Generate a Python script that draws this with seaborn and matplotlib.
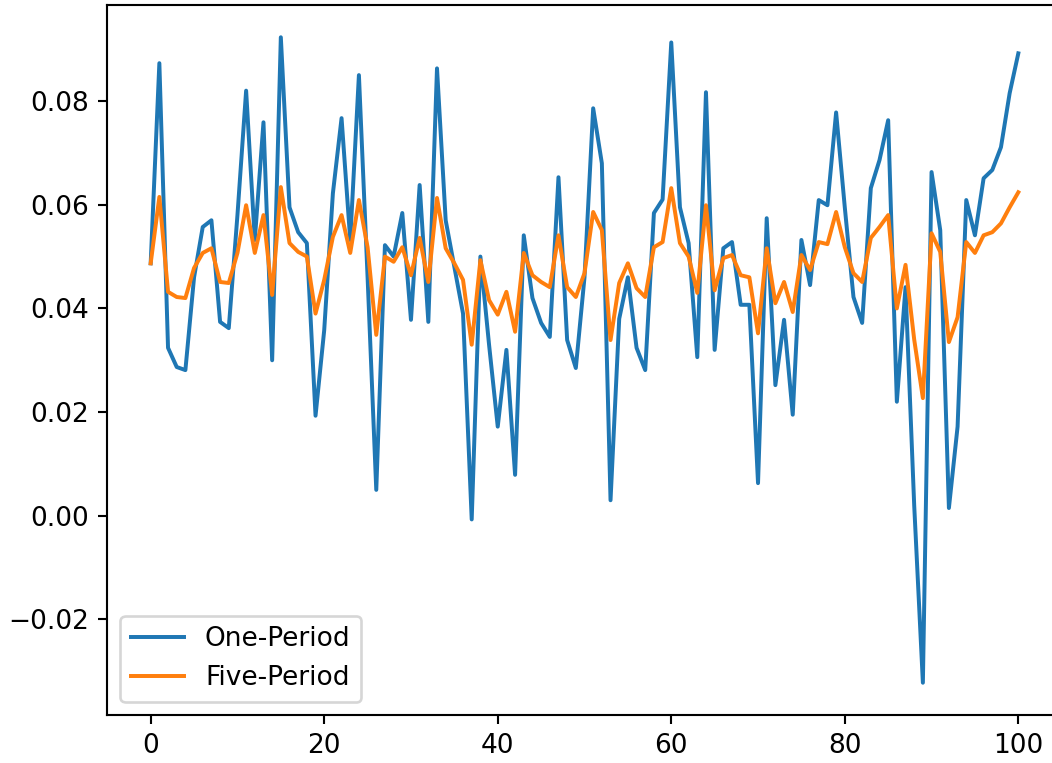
import matplotlib
matplotlib.use("Agg")

import matplotlib.pyplot as plt
import seaborn as sns
import pandas as pd

# ---------------------------------------------------------------------------
# Dados
# ---------------------------------------------------------------------------
periods = list(range(101))

one_period = [
    0.0487, 0.0873, 0.0324, 0.0287, 0.0281, 0.0460, 0.0557, 0.0570, 0.0374, 0.0362,
    0.0580, 0.0820, 0.0532, 0.0759, 0.0300, 0.0923, 0.0595, 0.0547, 0.0526, 0.0193,
    0.0358, 0.0622, 0.0767, 0.0532, 0.0850, 0.0460, 0.0050, 0.0522, 0.0500, 0.0584,
    0.0378, 0.0638, 0.0374, 0.0863, 0.0570, 0.0480, 0.0390, -0.0007, 0.0500, 0.0330,
    0.0172, 0.0320, 0.0079, 0.0541, 0.0420, 0.0372, 0.0345, 0.0653, 0.0339, 0.0285,
    0.0460, 0.0786, 0.0680, 0.0030, 0.0380, 0.0460, 0.0324, 0.0281, 0.0584, 0.0610,
    0.0913, 0.0595, 0.0526, 0.0306, 0.0817, 0.0320, 0.0516, 0.0528, 0.0407, 0.0407,
    0.0063, 0.0574, 0.0252, 0.0378, 0.0195, 0.0532, 0.0445, 0.0609, 0.0599, 0.0778,
    0.0595, 0.0422, 0.0372, 0.0632, 0.0686, 0.0763, 0.0220, 0.0441, 0.0020, -0.0322,
    0.0663, 0.0551, 0.0015, 0.0172, 0.0609, 0.0541, 0.0651, 0.0667, 0.0711, 0.0815,
    0.0892,
]

five_period = [
    0.0487, 0.0615, 0.0432, 0.0422, 0.0420, 0.0478, 0.0507, 0.0516, 0.0451, 0.0449,
    0.0507, 0.0599, 0.0507, 0.0580, 0.0426, 0.0634, 0.0526, 0.0509, 0.0500, 0.0390,
    0.0455, 0.0538, 0.0580, 0.0507, 0.0609, 0.0518, 0.0349, 0.0500, 0.0490, 0.0518,
    0.0464, 0.0536, 0.0451, 0.0613, 0.0516, 0.0487, 0.0455, 0.0330, 0.0493, 0.0416,
    0.0388, 0.0432, 0.0355, 0.0507, 0.0464, 0.0451, 0.0441, 0.0541, 0.0441, 0.0422,
    0.0468, 0.0586, 0.0551, 0.0339, 0.0449, 0.0487, 0.0439, 0.0422, 0.0518, 0.0528,
    0.0632, 0.0526, 0.0500, 0.0430, 0.0599, 0.0435, 0.0497, 0.0503, 0.0464, 0.0460,
    0.0352, 0.0516, 0.0410, 0.0451, 0.0393, 0.0503, 0.0474, 0.0528, 0.0524, 0.0586,
    0.0518, 0.0468, 0.0451, 0.0536, 0.0557, 0.0580, 0.0400, 0.0484, 0.0340, 0.0227,
    0.0545, 0.0509, 0.0335, 0.0383, 0.0528, 0.0507, 0.0541, 0.0547, 0.0564, 0.0595,
    0.0624,
]

df = pd.DataFrame({"period": periods, "one": one_period, "five": five_period})

# ---------------------------------------------------------------------------
# Gráfico
# ---------------------------------------------------------------------------
DPI = 190
W, H = 1052, 763

fig = plt.figure(figsize=(W / DPI, H / DPI), dpi=DPI)
# posição dos eixos em pixels (esq, dir, baixo, topo) -> frações
left, right, bottom, top = 107.3, 1061.7, 715.0, 5.0
ax = fig.add_axes([left / W, 1 - bottom / H, (right - left) / W, (bottom - top) / H])

sns.lineplot(data=df, x="period", y="one", ax=ax, color="#1f77b4", label="One-Period")
sns.lineplot(data=df, x="period", y="five", ax=ax, color="#ff7f0e", label="Five-Period")

ax.set_xlabel("")
ax.set_ylabel("")
ax.set_xticks([0, 20, 40, 60, 80, 100])
ax.set_yticks([-0.02, 0.00, 0.02, 0.04, 0.06, 0.08])
ax.legend(loc="lower left")

fig.savefig("out.png", dpi=DPI)
plt.close(fig)
